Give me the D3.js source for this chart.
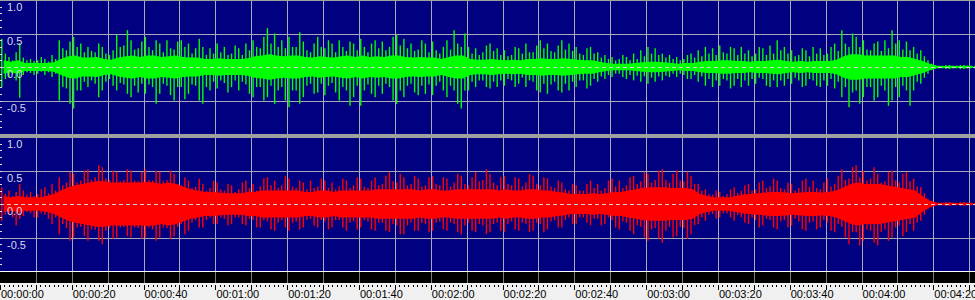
<!DOCTYPE html>
<html lang="en">
  <head>
    <meta charset="utf-8">
    <script src="https://d3js.org/d3.v7.min.js"></script>
    <style>
      body {margin: 0; background: #f0f0f0;}
      svg {display: block;}
      .ylab {font: 11px "Liberation Sans", sans-serif; fill: #d8d8e8;}
      .xlab {font: 11px "Liberation Sans", sans-serif; fill: #000;}
    </style>
  </head>
  <body>
    <script type="text/javascript">
      // peaks, one value per second (up / down)
      const greenHi = [
        .42,.20, .15,.10, .22,.36, .14,.10, .12,.09, .10,.15, .12,.08, .18,.12, .40,.28, .25,.38,
        .45,.30, .35,.22, .30,.24, .22,.35, .30,.20, .18,.25, .48,.30, .32,.55, .40,.26, .28,.38,
        .45,.30, .25,.40, .35,.22, .40,.28, .26,.38, .40,.30, .35,.20, .28,.42, .30,.18, .28,.20,
        .35,.22, .30,.18, .20,.32, .28,.18, .35,.25, .40,.30, .28,.45, .58,.35, .50,.30, .40,.28,
        .45,.30, .30,.52, .38,.25, .22,.35, .45,.30, .28,.40, .35,.22, .40,.30, .24,.38, .35,.25,
        .42,.30, .22,.35, .40,.28, .38,.25, .30,.45, .48,.32, .42,.28, .35,.24, .26,.40, .35,.22,
        .38,.25, .20,.30, .40,.26, .55,.35, .30,.50, .30,.20, .28,.18, .22,.32, .35,.24, .28,.18,
        .25,.16, .18,.30, .28,.20, .35,.22, .22,.32, .40,.28, .35,.24, .22,.32, .40,.26, .35,.24,
        .30,.20, .18,.28, .30,.20, .22,.14, .18,.12, .15,.10, .12,.18, .15,.10, .20,.12, .25,.16,
        .30,.20, .28,.18, .20,.14, .18,.12, .15,.10, .12,.18, .20,.14, .25,.16, .30,.20, .28,.18,
        .32,.22, .20,.30, .28,.18, .30,.20, .25,.16, .20,.30, .28,.18, .32,.20, .40,.25, .30,.20,
        .25,.16, .18,.28, .25,.16, .30,.20, .28,.18, .20,.30, .35,.24, .55,.35, .30,.50, .45,.30,
        .40,.26, .25,.35, .38,.24, .40,.28, .55,.35, .40,.26, .38,.25, .30,.20, .25,.16, .10,.05,
        .03,.02, .02,.03, .03,.02, .02,.03, .03,.02, .02,.02];
      const greenLo = [
        .30,.18, .15,.10, .20,.46, .12,.08, .09,.12, .10,.07, .12,.08, .15,.10, .50,.30, .32,.55,
        .62,.35, .35,.22, .30,.20, .25,.45, .35,.22, .18,.28, .35,.24, .26,.40, .45,.28, .38,.25,
        .40,.26, .30,.55, .40,.25, .28,.42, .50,.30, .30,.48, .40,.26, .28,.50, .55,.30, .35,.22,
        .32,.20, .24,.38, .30,.20, .35,.22, .26,.40, .45,.30, .30,.50, .45,.28, .55,.35, .30,.50,
        .60,.35, .35,.55, .45,.28, .25,.40, .38,.25, .42,.28, .24,.38, .50,.30, .35,.58, .45,.28,
        .58,.35, .26,.40, .45,.28, .40,.25, .30,.50, .55,.35, .45,.28, .25,.38, .42,.28, .40,.26,
        .42,.28, .22,.35, .45,.28, .35,.55, .62,.35, .35,.22, .30,.20, .20,.30, .32,.22, .30,.20,
        .28,.18, .20,.30, .25,.16, .30,.20, .22,.35, .38,.25, .40,.26, .22,.35, .38,.25, .35,.22,
        .30,.20, .20,.32, .28,.18, .22,.14, .18,.12, .15,.10, .10,.15, .18,.12, .20,.13, .22,.14,
        .25,.16, .22,.14, .20,.13, .15,.10, .15,.10, .12,.18, .18,.12, .22,.14, .28,.18, .30,.20,
        .28,.18, .20,.32, .28,.18, .30,.20, .28,.18, .25,.16, .18,.28, .30,.20, .30,.20, .28,.18,
        .25,.16, .20,.30, .28,.18, .20,.28, .30,.20, .28,.18, .32,.22, .45,.30, .60,.38, .35,.55,
        .45,.30, .30,.50, .45,.28, .35,.58, .50,.30, .45,.28, .35,.58, .35,.22, .25,.16, .10,.05,
        .03,.02, .02,.03, .03,.02, .02,.03, .03,.02, .02,.02];
      const redHi = [
        .25,.15, .20,.12, .18,.30, .20,.14, .18,.12, .15,.22, .25,.16, .30,.20, .40,.28, .32,.48,
        .45,.32, .35,.50, .52,.36, .40,.58, .55,.38, .36,.50, .48,.34, .36,.52, .50,.35, .34,.48,
        .52,.36, .35,.50, .48,.34, .36,.50, .45,.30, .28,.40, .35,.24, .26,.38, .30,.20, .24,.35,
        .32,.22, .20,.30, .28,.18, .22,.32, .35,.24, .30,.20, .26,.38, .40,.28, .35,.24, .28,.42,
        .38,.26, .24,.35, .32,.22, .35,.24, .26,.38, .35,.24, .32,.22, .26,.38, .35,.24, .28,.40,
        .38,.26, .24,.35, .40,.28, .30,.42, .48,.34, .32,.45, .40,.28, .30,.42, .38,.26, .28,.40,
        .42,.30, .28,.40, .38,.26, .32,.45, .42,.30, .28,.40, .48,.34, .36,.52, .45,.32, .28,.40,
        .42,.30, .28,.40, .38,.26, .32,.45, .42,.30, .28,.40, .38,.26, .24,.35, .32,.22, .20,.30,
        .28,.20, .20,.30, .35,.24, .30,.20, .24,.35, .38,.26, .35,.24, .28,.40, .42,.30, .34,.48,
        .45,.32, .36,.50, .52,.36, .32,.45, .50,.35, .34,.48, .42,.30, .30,.20, .22,.15, .14,.20,
        .18,.12, .15,.22, .25,.16, .20,.28, .30,.20, .22,.32, .35,.24, .26,.38, .35,.24, .22,.32,
        .30,.20, .24,.35, .38,.26, .35,.24, .22,.32, .38,.26, .30,.42, .52,.36, .38,.55, .58,.40,
        .50,.35, .38,.55, .45,.32, .34,.48, .50,.35, .32,.45, .48,.34, .38,.26, .25,.16, .08,.05,
        .03,.02, .02,.03, .03,.02, .02,.03, .03,.02, .02,.02];
      const redLo = [
        .25,.16, .14,.20, .32,.22, .18,.12, .14,.20, .20,.14, .16,.22, .30,.20, .45,.30, .36,.55,
        .50,.35, .34,.48, .55,.38, .38,.55, .60,.40, .36,.52, .50,.35, .34,.48, .50,.35, .36,.52,
        .50,.35, .38,.55, .50,.35, .36,.52, .48,.34, .30,.45, .40,.28, .24,.35, .35,.24, .20,.30,
        .30,.20, .22,.32, .30,.20, .20,.30, .32,.22, .24,.35, .35,.24, .26,.38, .40,.28, .24,.35,
        .40,.28, .26,.38, .35,.24, .22,.32, .35,.24, .26,.38, .35,.24, .24,.35, .40,.28, .26,.38,
        .35,.24, .26,.38, .40,.28, .28,.40, .42,.30, .32,.45, .45,.32, .28,.40, .40,.28, .30,.42,
        .40,.28, .26,.38, .40,.28, .30,.42, .45,.32, .28,.40, .42,.30, .32,.45, .42,.30, .28,.40,
        .42,.30, .26,.38, .40,.28, .30,.42, .40,.28, .30,.42, .38,.26, .24,.35, .35,.24, .20,.30,
        .30,.20, .20,.28, .32,.22, .22,.32, .30,.20, .24,.35, .38,.26, .28,.40, .45,.32, .34,.50,
        .55,.38, .36,.52, .58,.40, .34,.50, .48,.34, .36,.52, .45,.32, .30,.20, .25,.16, .15,.22,
        .20,.14, .14,.20, .25,.16, .20,.28, .30,.20, .24,.35, .32,.22, .24,.35, .38,.26, .24,.35,
        .32,.22, .26,.38, .40,.28, .26,.38, .35,.24, .28,.40, .42,.30, .34,.50, .60,.42, .42,.62,
        .55,.38, .40,.58, .62,.42, .38,.55, .50,.35, .32,.48, .42,.30, .40,.28, .25,.16, .08,.05,
        .03,.02, .02,.03, .03,.02, .02,.03, .03,.02, .02,.02];

      // dense body of the signal, one value per 2 seconds
      const greenCore = [.10,.08,.10,.06,.06,.06,.06,.07,.12,.16,.17,.14,.14,.15,.12,.11,.14,.16,.17,.15,
        .17,.17,.15,.16,.17,.15,.14,.14,.12,.12,.13,.12,.12,.12,.13,.16,.17,.19,.17,.16,
        .17,.17,.15,.14,.16,.15,.14,.16,.17,.15,.17,.15,.16,.15,.17,.17,.15,.14,.15,.14,
        .14,.12,.15,.17,.17,.12,.11,.11,.12,.11,.10,.11,.10,.12,.12,.13,.12,.12,.13,.12,
        .11,.10,.10,.08,.06,.05,.05,.05,.06,.07,.08,.08,.07,.06,.05,.06,.06,.08,.09,.09,
        .10,.10,.09,.09,.08,.09,.09,.10,.11,.09,.08,.09,.08,.09,.09,.09,.11,.16,.19,.19,
        .17,.17,.17,.17,.17,.15,.15,.12,.09,.05,.02,.015,.02,.015,.02,.015];
      const redCore = [.12,.10,.12,.10,.10,.10,.12,.15,.20,.25,.28,.30,.32,.34,.34,.32,.32,.32,.32,.32,
        .33,.32,.30,.32,.30,.26,.22,.20,.18,.18,.17,.16,.16,.16,.18,.18,.20,.20,.20,.20,
        .20,.20,.18,.18,.20,.20,.18,.20,.20,.20,.20,.20,.22,.22,.22,.22,.22,.22,.20,.22,
        .22,.20,.20,.22,.22,.22,.22,.22,.22,.20,.22,.20,.20,.22,.22,.20,.20,.18,.17,.15,
        .15,.15,.16,.15,.16,.18,.18,.20,.22,.24,.25,.25,.25,.24,.24,.24,.22,.15,.12,.10,
        .10,.10,.12,.14,.15,.16,.17,.18,.18,.17,.16,.17,.18,.18,.17,.18,.20,.25,.30,.32,
        .30,.30,.30,.28,.26,.24,.22,.20,.12,.05,.02,.015,.02,.015,.02,.015];

      // axis ticks
      const yTicks = [1.0, 0.5, 0.0, -0.5];
      const timeLabels = ["00:00:00","00:00:20","00:00:40","00:01:00","00:01:20","00:01:40","00:02:00",
        "00:02:20","00:02:40","00:03:00","00:03:20","00:03:40","00:04:00","00:04:20"];

      const w = 975;
      const h = 300;

      const svg = d3.select("body").append("svg")
          .attr("width", w)
          .attr("height", h);

      const xScale = d3.scaleLinear().domain([0, 271.6]).range([0, w]);

      // two channel panels
      const panels = [
        {top: 0, bottom: 134, hi: greenHi, lo: greenLo, core: greenCore, color: "#00ff00"},
        {top: 137, bottom: 271, hi: redHi, lo: redLo, core: redCore, color: "#ff0000"}
      ];

      svg.append("rect").attr("x", 0).attr("y", 0).attr("width", w).attr("height", 283).attr("fill", "#a0a0a0");
      svg.append("rect").attr("x", 0).attr("y", 271).attr("width", w).attr("height", 1).attr("fill", "#ffffff");
      svg.append("rect").attr("x", 0).attr("y", 272).attr("width", w).attr("height", 11).attr("fill", "#000000");
      svg.append("rect").attr("x", 0).attr("y", 283).attr("width", w).attr("height", 17).attr("fill", "#f0f0f0");

      panels.forEach(function(p) {
        const yScale = d3.scaleLinear().domain([-1, 1]).range([p.bottom, p.top]);
        const g = svg.append("g");

        g.append("rect")
            .attr("x", 0).attr("y", p.top + 1)
            .attr("width", w).attr("height", p.bottom - p.top - 1)
            .attr("fill", "#000080");

        // horizontal grid
        g.selectAll(".hgrid")
            .data([0.5, -0.5])
            .enter().append("line")
            .attr("x1", 0).attr("x2", w)
            .attr("y1", function(d) { return Math.round(yScale(d)) + 0.5; })
            .attr("y2", function(d) { return Math.round(yScale(d)) + 0.5; })
            .attr("stroke", "#a8a8b8");

        // vertical grid every 10 s
        g.selectAll(".vgrid")
            .data(d3.range(10, 271, 10))
            .enter().append("line")
            .attr("x1", function(d) { return Math.round(xScale(d)) + 0.5; })
            .attr("x2", function(d) { return Math.round(xScale(d)) + 0.5; })
            .attr("y1", p.top + 1).attr("y2", p.bottom)
            .attr("stroke", "#a8a8b8");

        // dense body of the signal
        const area = d3.area()
            .x(function(d, i) { return xScale(i * 2 + 1); })
            .y0(function(d) { return yScale(-d); })
            .y1(function(d) { return yScale(d); });
        g.append("path")
            .datum(p.core)
            .attr("d", area)
            .attr("fill", p.color);

        // peaks, one per second
        g.selectAll(".peak")
            .data(p.hi)
            .enter().append("line")
            .attr("x1", function(d, i) { return xScale(i + 0.5); })
            .attr("x2", function(d, i) { return xScale(i + 0.5); })
            .attr("y1", function(d) { return yScale(d); })
            .attr("y2", function(d, i) { return yScale(-p.lo[i]); })
            .attr("stroke", p.color)
            .attr("stroke-width", 1.4);

        // zero line
        g.append("line")
            .attr("x1", 0).attr("x2", w)
            .attr("y1", Math.round(yScale(0)) + 0.5)
            .attr("y2", Math.round(yScale(0)) + 0.5)
            .attr("stroke", "#d0d0d0")
            .attr("stroke-dasharray", "4,3");

        // left minor ticks
        g.selectAll(".ltick")
            .data(d3.range(-9, 10).map(function(d) { return d / 10; }))
            .enter().append("line")
            .attr("x1", 0).attr("x2", 2)
            .attr("y1", function(d) { return Math.round(yScale(d)) + 0.5; })
            .attr("y2", function(d) { return Math.round(yScale(d)) + 0.5; })
            .attr("stroke", "#e0e0e0");

        g.selectAll(".ylab")
            .data(yTicks)
            .enter().append("text")
            .attr("class", "ylab")
            .attr("x", 7)
            .attr("y", function(d) { return yScale(d) + 11; })
            .text(function(d) { return d.toFixed(1); });
      });

      // gridlines through the black band
      svg.selectAll(".bgrid")
          .data(d3.range(10, 271, 10))
          .enter().append("line")
          .attr("x1", function(d) { return Math.round(xScale(d)) + 0.5; })
          .attr("x2", function(d) { return Math.round(xScale(d)) + 0.5; })
          .attr("y1", 272).attr("y2", 283)
          .attr("stroke", "#808080");

      // time axis
      const axis = svg.append("g");
      axis.selectAll(".minor")
          .data(d3.range(0, 272, 1.25))
          .enter().append("line")
          .attr("x1", function(d) { return Math.round(xScale(d)) + 0.5; })
          .attr("x2", function(d) { return Math.round(xScale(d)) + 0.5; })
          .attr("y1", 285)
          .attr("y2", function(d) { return d % 10 === 0 ? 290 : 287; })
          .attr("stroke", "#000");

      axis.selectAll(".xlab")
          .data(timeLabels)
          .enter().append("text")
          .attr("class", "xlab")
          .attr("x", function(d, i) { return xScale(i * 20) + 1; })
          .attr("y", 298)
          .text(function(d) { return d; });
    </script>
  </body>
</html>
